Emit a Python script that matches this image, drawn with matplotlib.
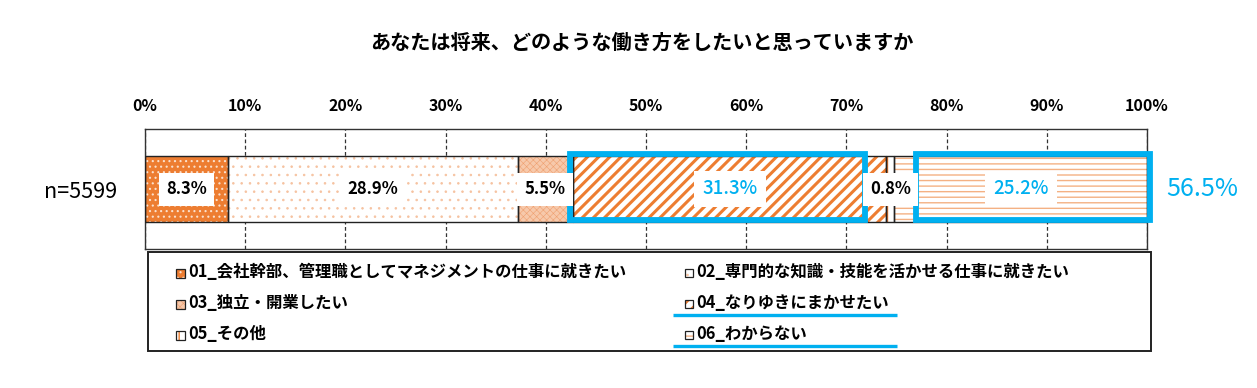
import matplotlib
matplotlib.use("Agg")
import matplotlib.pyplot as plt
from matplotlib.patches import Rectangle
import numpy as np

plt.rcParams['font.family'] = ['Noto Sans CJK JP', 'DejaVu Sans']

# ---------------- data ----------------
title = "あなたは将来、どのような働き方をしたいと思っていますか"
row_label = "n=5599"
categories = [
    "01_会社幹部、管理職としてマネジメントの仕事に就きたい",
    "02_専門的な知識・技能を活かせる仕事に就きたい",
    "03_独立・開業したい",
    "04_なりゆきにまかせたい",
    "05_その他",
    "06_わからない",
]
values = [8.3, 28.9, 5.5, 31.3, 0.8, 25.2]
xticks = [0, 10, 20, 30, 40, 50, 60, 70, 80, 90, 100]
highlight_total = "56.5%"

# ---------------- styles ----------------
ORANGE = '#ED7D31'
LORANGE = '#F4B183'
BLUE = '#00B0F0'
styles = [
    dict(fc=ORANGE, hc='#FBE0CC', hatch='...', hlw=0.8),
    dict(fc='white', hc='#F6C2A0', hatch='..', hlw=0.6),
    dict(fc='#F7C9AB', hc='#EFA070', hatch='xxxxx', hlw=0.4),
    dict(fc='white', hc=ORANGE, hatch='///', hlw=2.2),
    dict(fc='white', hc=ORANGE, hatch='||', hlw=1.0),
    dict(fc='white', hc=LORANGE, hatch='---', hlw=1.0),
]
label_colors = ['black', 'black', 'black', BLUE, 'black', BLUE]
label_weights = ['bold', 'bold', 'bold', 'medium', 'bold', 'medium']
label_sizes = [12, 12, 12, 13.5, 12, 13.5]
highlight_idx = [3, 5]
# highlight boxes (annotation, in x-units): as drawn in the reference
highlight_spans = [(42.4, 71.85), (76.95, 100.25)]

W, H = 1257, 388
fig = plt.figure(figsize=(W / 100, H / 100), dpi=100)

# full-figure overlay in pixel coordinates for legend
ov = fig.add_axes([0, 0, 1, 1], zorder=0)
ov.set_xlim(0, W)
ov.set_ylim(H, 0)
ov.axis('off')

ax = fig.add_axes([145 / W, 1 - 249 / H, 1002 / W, 120 / H], zorder=2)
ax.set_xlim(0, 100)
ax.set_ylim(-0.5, 0.5)

starts = np.concatenate([[0], np.cumsum(values)[:-1]])
bar_h = 0.55


def set_hlw(p, w):
    plt.rcParams['hatch.linewidth'] = w
    try:
        p.set_hatch_linewidth(w)
    except AttributeError:
        pass


for i, (v, s0) in enumerate(zip(values, starts)):
    st = styles[i]
    plt.rcParams['hatch.linewidth'] = st['hlw']
    bars = ax.barh(0, v, left=s0, height=bar_h, color=st['fc'],
                   edgecolor=st['hc'], hatch=st['hatch'], linewidth=0, zorder=2)
    for b in bars:
        set_hlw(b, st['hlw'])
    ax.barh(0, v, left=s0, height=bar_h, fill=False, edgecolor='#222222',
            linewidth=1.0, zorder=3)
plt.rcParams['hatch.linewidth'] = 1.0

for i, (v, s0) in enumerate(zip(values, starts)):
    ax.text(s0 + v / 2, 0, f"{v:.1f}%", ha='center', va='center',
            fontsize=label_sizes[i], fontweight=label_weights[i],
            color=label_colors[i], zorder=6,
            bbox=dict(boxstyle='square,pad=0.45', fc='white', ec='none'))

for (x0, x1) in highlight_spans:
    ax.add_patch(Rectangle((x0, -0.255), x1 - x0, 0.547, fill=False,
                           edgecolor=BLUE, linewidth=4.2, zorder=5,
                           clip_on=False))

ax.text(105.5, 0, highlight_total, ha='center', va='center', fontsize=18,
        color=BLUE, zorder=6)

ax.set_xticks(xticks)
ax.set_xticklabels([f"{t}%" for t in xticks], fontsize=11.5, fontweight='bold')
ax.xaxis.tick_top()
ax.tick_params(axis='x', length=0, pad=11)
ax.set_yticks([0])
ax.set_yticklabels([row_label], fontsize=15.5)
ax.tick_params(axis='y', length=0, pad=20)
ax.xaxis.grid(True, linestyle=(0, (3, 2)), color='#333333', linewidth=0.9)
ax.set_axisbelow(True)
for sp in ax.spines.values():
    sp.set_color('#333333')
    sp.set_linewidth(1.0)

fig.text(642 / W, 1 - 42 / H, title, ha='center', va='center',
         fontsize=14.5, fontweight='bold')

# ---------------- legend (manual layout) ----------------
ov.add_patch(Rectangle((148, 252), 1003, 99, fill=False, edgecolor='#222222',
                       linewidth=1.4))
col_x = [176, 685]
row_y = [272, 303, 334]
msize = [9, 8]
for i, name in enumerate(categories):
    r, c = divmod(i, 2)
    st = styles[i]
    mx, my = col_x[c], row_y[r] + 1
    ms = msize[c]
    lw = min(st['hlw'], 1.5)
    plt.rcParams['hatch.linewidth'] = lw
    p = Rectangle((mx, my - ms / 2), ms, ms, facecolor=st['fc'],
                  edgecolor=st['hc'], hatch=st['hatch'], linewidth=0)
    set_hlw(p, lw)
    ov.add_patch(p)
    ov.add_patch(Rectangle((mx, my - ms / 2), ms, ms, fill=False,
                           edgecolor='#222222', linewidth=0.9))
    ov.text(mx + ms + 3, row_y[r], name, ha='left', va='center',
            fontsize=11.8, fontweight='bold')
    if i in highlight_idx:
        ov.plot([673, 897], [row_y[r] + 11.5] * 2, color=BLUE, linewidth=2.4,
                solid_capstyle='butt')
plt.rcParams['hatch.linewidth'] = 1.0

fig.savefig("out.png", dpi=100)
